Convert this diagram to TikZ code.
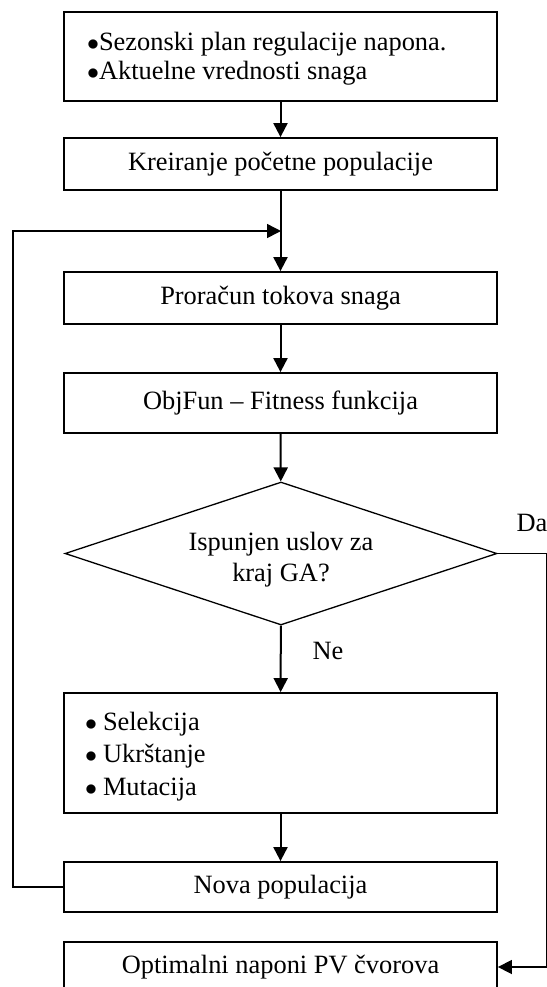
\documentclass[tikz,border=0pt]{standalone}
\usepackage{fontspec}
\setmainfont{Liberation Serif}
\usetikzlibrary{arrows.meta,shapes.geometric,positioning}

\begin{document}
\begin{tikzpicture}[x=0.5pt, y=-0.5pt,
    box/.style={draw, line width=0.9pt, minimum width=216.5pt, inner sep=0pt,
        font=\fontsize{13.2pt}{15pt}\selectfont},
    decision/.style={draw, diamond, line width=0.65pt, aspect=3, inner sep=0pt,
        minimum width=216pt, minimum height=71.5pt, align=center,
        font=\fontsize{13.2pt}{15.5pt}\selectfont},
    flow/.style={-{Triangle[length=7pt,width=7pt]}, line width=1pt},
    back/.style={-{Triangle[length=7pt,width=7pt]}, line width=0.75pt},
    lbl/.style={font=\fontsize{13.2pt}{15pt}\selectfont, inner sep=0pt}]
    \useasboundingbox (0,0) rectangle (547,987);

    % Input data
    \node[box, minimum height=44.5pt, text width=193.5pt, align=flush left,
        font=\fontsize{13.2pt}{14.5pt}\selectfont] (input) at (280.5,56.5)
        {\rule{0pt}{11pt}$\bullet$Sezonski plan regulacije napona.\\
         $\bullet$Aktuelne vrednosti snaga};

    % Main steps of the GA
    \node[box, minimum height=26pt] (kreir) at (280.5,164) {Kreiranje početne populacije};
    \node[box, minimum height=26pt] (prorac) at (280.5,298) {Proračun tokova snaga};
    \node[box, minimum height=30pt] (objfun) at (280.5,403) {ObjFun -- Fitness funkcija};

    % Stopping test
    \node[decision] (test) at (281,553.5) {\rule{0pt}{15pt}Ispunjen uslov za\\kraj GA?};

    % Genetic operators
    \node[box, minimum height=60pt, text width=195.5pt, align=flush left,
        font=\fontsize{13.2pt}{16.25pt}\selectfont] (ops) at (280.5,753)
        {\rule{0pt}{12.4pt}$\bullet$\hspace{3pt}Selekcija\\
         $\bullet$\hspace{3pt}Ukrštanje\\
         $\bullet$\hspace{3pt}Mutacija};
    \node[box, minimum height=25pt] (nova) at (280.5,887) {Nova populacija};

    % Result
    \node[box, minimum height=25pt] (opt) at (280.5,967) {Optimalni naponi PV čvorova};

    % Forward arrows
    \draw[flow] (input) -- (kreir);
    \draw[flow] (kreir) -- (prorac);
    \draw[flow] (prorac) -- (objfun);
    \draw[flow] (objfun) -- (test);
    \draw[flow] (test) -- (ops);
    \draw[flow] (ops) -- (nova);

    % Loop back to the power flow
    \coordinate (join) at (281,231);
    \draw[back] (nova.west) -- ++(-50,0) |- (join);

    % Exit branch
    \draw[back] (test.east) -- ++(49,0) |- (opt.east);
    \node[lbl] (da) at (532,523) {Da};
    \node[lbl] (ne) at (328,651) {Ne};
\end{tikzpicture}
\end{document}
